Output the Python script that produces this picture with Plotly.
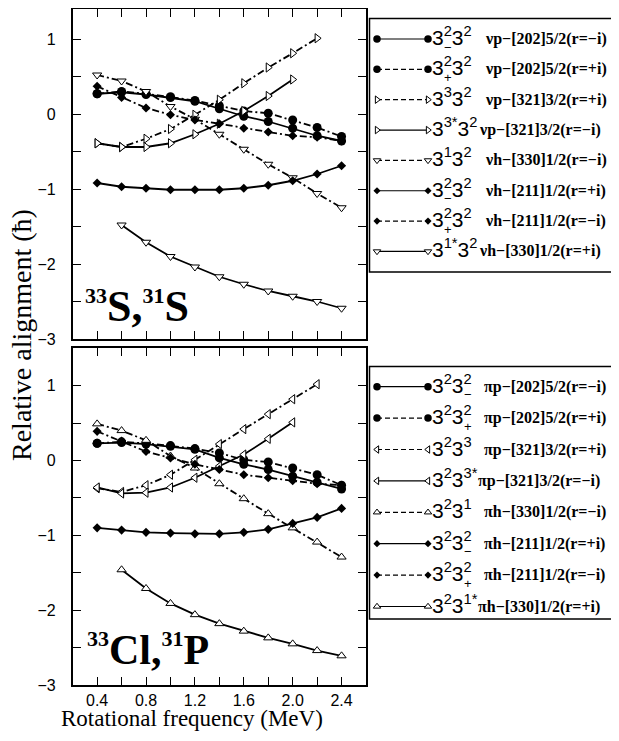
import plotly.graph_objects as go

# The page body adds an 8px margin, so the figure is drawn 8px in from the
# top-left of the 619x741 window; size the figure to fill the rest exactly.
PAGE_W, PAGE_H = 619, 741
OFF = 8
W, H = PAGE_W - OFF, PAGE_H - OFF

# ---------------- data ----------------
freq = [0.4, 0.6, 0.8, 1.0, 1.2, 1.4, 1.6, 1.8, 2.0, 2.2, 2.4]
freq_from_06 = [0.6, 0.8, 1.0, 1.2, 1.4, 1.6, 1.8, 2.0, 2.2, 2.4]
freq_to_22 = [0.4, 0.6, 0.8, 1.0, 1.2, 1.4, 1.6, 1.8, 2.0, 2.2]
freq_to_20 = [0.4, 0.6, 0.8, 1.0, 1.2, 1.4, 1.6, 1.8, 2.0]

x_tick_vals = [0.4, 0.6, 0.8, 1.0, 1.2, 1.4, 1.6, 1.8, 2.0, 2.2, 2.4]
x_tick_text = ["0.4", "", "0.8", "", "1.2", "", "1.6", "", "2.0", "", "2.4"]
y_tick_vals = [-3, -2.5, -2, -1.5, -1, -0.5, 0, 0.5, 1, 1.5]
y_tick_text = ["\u22123", "", "\u22122", "", "\u22121", "", "0", "", "1", ""]

# upper panel: 33S, 31S (neutron configurations)
s_nup202_minus = [0.27, 0.29, 0.26, 0.22, 0.17, 0.07, -0.03, -0.10, -0.19, -0.29, -0.36]
s_nup202_plus = [0.27, 0.30, 0.27, 0.23, 0.18, 0.11, 0.04, 0.01, -0.08, -0.18, -0.30]
s_nup321_plus = [-0.39, -0.44, -0.33, -0.20, -0.01, 0.19, 0.41, 0.62, 0.81, 1.01]
s_nup321_minus = [-0.39, -0.44, -0.44, -0.39, -0.27, -0.13, 0.04, 0.24, 0.46]
s_nuh330_minus = [0.52, 0.44, 0.30, 0.10, -0.07, -0.27, -0.47, -0.67, -0.85, -1.06, -1.25]
s_nuh211_plus = [-0.92, -0.97, -0.99, -1.01, -1.01, -1.01, -0.99, -0.95, -0.89, -0.80, -0.69]
s_nuh211_minus = [0.37, 0.22, 0.08, -0.01, -0.08, -0.13, -0.19, -0.24, -0.29, -0.31, -0.36]
s_nuh330_plus = [-1.48, -1.71, -1.90, -2.04, -2.17, -2.27, -2.36, -2.43, -2.50, -2.59]

# lower panel: 33Cl, 31P (proton configurations)
p_pip202_minus = [0.23, 0.24, 0.22, 0.19, 0.15, 0.035, -0.05, -0.12, -0.21, -0.29, -0.38]
p_pip202_plus = [0.23, 0.25, 0.23, 0.20, 0.16, 0.10, 0.01, -0.02, -0.10, -0.19, -0.33]
p_pip321_plus = [-0.37, -0.42, -0.33, -0.19, 0.01, 0.22, 0.42, 0.62, 0.82, 1.02]
p_pip321_minus = [-0.36, -0.44, -0.43, -0.36, -0.23, -0.075, 0.08, 0.29, 0.51]
p_pih330_minus = [0.49, 0.40, 0.27, 0.06, -0.10, -0.31, -0.51, -0.71, -0.90, -1.09, -1.29]
p_pih211_plus = [-0.90, -0.93, -0.96, -0.97, -0.98, -0.98, -0.96, -0.92, -0.84, -0.76, -0.64]
p_pih211_minus = [0.39, 0.26, 0.12, 0.035, -0.05, -0.12, -0.19, -0.23, -0.27, -0.31, -0.33]
p_pih330_plus = [-1.46, -1.71, -1.91, -2.06, -2.18, -2.28, -2.37, -2.45, -2.54, -2.61]

# legend texts
top_labels = ["3<sup>2</sup>3<sup>2</sup>", "3<sup>2</sup>3<sup>2</sup>", "3<sup>3</sup>3<sup>2</sup>",
              "3<sup>3*</sup>3<sup>2</sup>", "3<sup>1</sup>3<sup>2</sup>", "3<sup>2</sup>3<sup>2</sup>",
              "3<sup>2</sup>3<sup>2</sup>", "3<sup>1*</sup>3<sup>2</sup>"]
top_subs = ["\u2212", "+", "", "", "", "\u2212", "+", ""]
top_desc = ["\u03bdp\u2212[202]5/2(r=\u2212i)", "\u03bdp\u2212[202]5/2(r=+i)",
            "\u03bdp\u2212[321]3/2(r=+i)", "\u03bdp\u2212[321]3/2(r=\u2212i)",
            "\u03bdh\u2212[330]1/2(r=\u2212i)", "\u03bdh\u2212[211]1/2(r=+i)",
            "\u03bdh\u2212[211]1/2(r=\u2212i)", "\u03bdh\u2212[330]1/2(r=+i)"]
bot_labels = ["3<sup>2</sup>3<sup>2</sup>", "3<sup>2</sup>3<sup>2</sup>", "3<sup>2</sup>3<sup>3</sup>",
              "3<sup>2</sup>3<sup>3*</sup>", "3<sup>2</sup>3<sup>1</sup>", "3<sup>2</sup>3<sup>2</sup>",
              "3<sup>2</sup>3<sup>2</sup>", "3<sup>2</sup>3<sup>1*</sup>"]
bot_subs = ["\u2212", "+", "", "", "", "\u2212", "+", ""]
bot_desc = ["\u03c0p\u2212[202]5/2(r=\u2212i)", "\u03c0p\u2212[202]5/2(r=+i)",
            "\u03c0p\u2212[321]3/2(r=+i)", "\u03c0p\u2212[321]3/2(r=\u2212i)",
            "\u03c0h\u2212[330]1/2(r=\u2212i)", "\u03c0h\u2212[211]1/2(r=+i)",
            "\u03c0h\u2212[211]1/2(r=\u2212i)", "\u03c0h\u2212[330]1/2(r=+i)"]

# ---------------- styles ----------------
DASH = "7px,3px,2px,3px"
LEG_DASH = "5px,3px"
CIRC = dict(symbol="circle", size=9, color="black", line=dict(width=0))
DIAM = dict(symbol="diamond", size=7, color="black", line=dict(width=0))


def tri(sym):
    return dict(symbol=sym, size=8, color="white", line=dict(width=1, color="black"))


top_series = [
    (freq, s_nup202_minus, "solid", CIRC),
    (freq, s_nup202_plus, DASH, CIRC),
    (freq_to_22, s_nup321_plus, DASH, tri("triangle-right")),
    (freq_to_20, s_nup321_minus, "solid", tri("triangle-right")),
    (freq, s_nuh330_minus, DASH, tri("triangle-down")),
    (freq, s_nuh211_plus, "solid", DIAM),
    (freq, s_nuh211_minus, DASH, DIAM),
    (freq_from_06, s_nuh330_plus, "solid", tri("triangle-down")),
]
bot_series = [
    (freq, p_pip202_minus, "solid", CIRC),
    (freq, p_pip202_plus, DASH, CIRC),
    (freq_to_22, p_pip321_plus, DASH, tri("triangle-left")),
    (freq_to_20, p_pip321_minus, "solid", tri("triangle-left")),
    (freq, p_pih330_minus, DASH, tri("triangle-up")),
    (freq, p_pih211_plus, "solid", DIAM),
    (freq, p_pih211_minus, DASH, DIAM),
    (freq_from_06, p_pih330_plus, "solid", tri("triangle-up")),
]

fig = go.Figure()

for xs, ys, dash, mk in top_series:
    fig.add_trace(go.Scatter(x=xs, y=ys, mode="lines+markers", xaxis="x", yaxis="y",
                             line=dict(color="black", width=1.8, dash=dash),
                             marker=mk, showlegend=False, hoverinfo="skip"))
for xs, ys, dash, mk in bot_series:
    fig.add_trace(go.Scatter(x=xs, y=ys, mode="lines+markers", xaxis="x2", yaxis="y2",
                             line=dict(color="black", width=1.8, dash=dash),
                             marker=mk, showlegend=False, hoverinfo="skip"))

# ---------------- legends (drawn in a page-pixel overlay axis) ----------------
annotations = []
shapes = []
SERIF = "Liberation Serif"
SANS = "Liberation Sans"


def draw_legend(series, labels, subs, descs, box, y0, dy, sub_dx, desc_x, desc_x_star):
    x0b, y0b, x1b, y1b = box
    shapes.append(dict(type="rect", xref="x3", yref="y3", x0=x0b, y0=y0b, x1=x1b, y1=y1b,
                       line=dict(color="black", width=1.5), fillcolor="rgba(0,0,0,0)"))
    for i, (ser, lab, sub, desc) in enumerate(zip(series, labels, subs, descs)):
        yy = y0 + i * dy
        _, _, dash, mk = ser
        mk2 = dict(mk)
        mk2["size"] = mk["size"] - 1.5
        fig.add_trace(go.Scatter(x=[377, 428], y=[yy, yy], mode="lines+markers",
                                 xaxis="x3", yaxis="y3", cliponaxis=False,
                                 line=dict(color="black", width=1.2,
                                           dash="solid" if dash == "solid" else LEG_DASH),
                                 marker=mk2, showlegend=False, hoverinfo="skip"))
        annotations.append(dict(xref="x3", yref="y3", x=430, y=yy - 3, text=lab,
                                showarrow=False, xanchor="left", yanchor="middle",
                                font=dict(family=SANS, size=21, color="black")))
        if sub:
            annotations.append(dict(xref="x3", yref="y3", x=430 + sub_dx, y=yy + 8, text=sub,
                                    showarrow=False, xanchor="center", yanchor="middle",
                                    font=dict(family=SANS, size=13, color="black")))
        dx = desc_x_star if "*" in lab else desc_x
        annotations.append(dict(xref="x3", yref="y3", x=dx, y=yy, text="<b>" + desc + "</b>",
                                showarrow=False, xanchor="left", yanchor="middle",
                                font=dict(family=SERIF, size=16, color="black")))


draw_legend(top_series, top_labels, top_subs, top_desc, (369.5, 18.5, 617, 272),
            39, 30.35, 18, 483, 477)
draw_legend(bot_series, bot_labels, bot_subs, bot_desc, (369.5, 366.5, 617, 619),
            386.7, 31.4, 38, 482, 476)

# panel labels
SUP = '<sup><span style="font-size:22px">{}</span></sup>'
annotations.append(dict(xref="x3", yref="y3", x=83, y=306,
                        text="<b>" + SUP.format("33") + "S," + SUP.format("31") + "S</b>",
                        showarrow=False, xanchor="left", yanchor="middle",
                        font=dict(family=SERIF, size=44, color="black")))
annotations.append(dict(xref="x3", yref="y3", x=85, y=649,
                        text="<b>" + SUP.format("33") + "Cl," + SUP.format("31") + "P</b>",
                        showarrow=False, xanchor="left", yanchor="middle",
                        font=dict(family=SERIF, size=42, color="black")))

# axis titles
annotations.append(dict(xref="x3", yref="y3", x=21, y=335, text="Relative alignment (\u0127)",
                        textangle=-90, showarrow=False, xanchor="center", yanchor="middle",
                        font=dict(family=SERIF, size=28, color="black")))
annotations.append(dict(xref="x3", yref="y3", x=192, y=718, text="Rotational frequency (MeV)",
                        showarrow=False, xanchor="center", yanchor="middle",
                        font=dict(family=SERIF, size=23, color="black")))

# ---------------- axes (page pixel positions of the frames) ----------------
PX_L, PX_R = 72.7, 366.0
TOP_T, TOP_B = 1.5, 339.0          # top panel spans y = 1.5 .. -3 in the reference
BOT_T, BOT_B = 348.3, 685.0
PPU = (TOP_B - TOP_T) / 4.5        # pixels per unit of alignment
TOP_VIS = OFF + 0.8                # highest drawable row of the page
top_range_max = 1.5 - (TOP_VIS - TOP_T) / PPU


def fx(px):
    return (px - OFF) / W


def fy(py):
    return 1 - (py - OFF) / H


common_x = dict(range=[0.2, 2.6], showline=True, linecolor="black", linewidth=1.6,
                mirror="ticks", ticks="inside", ticklen=8, tickwidth=1.3, tickcolor="black",
                tickvals=x_tick_vals, ticktext=x_tick_text, showgrid=False, zeroline=False,
                domain=[fx(PX_L), fx(PX_R)], automargin=False,
                tickfont=dict(family=SANS, size=16, color="black"))
common_y = dict(showline=True, linecolor="black", linewidth=1.6,
                mirror="ticks", ticks="inside", ticklen=8, tickwidth=1.3, tickcolor="black",
                tickvals=y_tick_vals, ticktext=y_tick_text, showgrid=False, zeroline=False,
                ticklabelstandoff=12, automargin=False,
                tickfont=dict(family=SANS, size=16, color="black"))

fig.update_layout(
    template="none",
    width=W, height=H, margin=dict(l=0, r=0, t=0, b=0, pad=0, autoexpand=False),
    paper_bgcolor="white", plot_bgcolor="rgba(0,0,0,0)",
    showlegend=False,
    xaxis=dict(common_x, anchor="y", showticklabels=False),
    yaxis=dict(common_y, anchor="x", range=[-3, top_range_max],
               domain=[fy(TOP_B), fy(TOP_VIS)]),
    xaxis2=dict(common_x, anchor="y2", showticklabels=True),
    yaxis2=dict(common_y, anchor="x2", range=[-3, 1.5], domain=[fy(BOT_B), fy(BOT_T)]),
    xaxis3=dict(domain=[0, 1], range=[OFF, PAGE_W], visible=False, anchor="y3",
                fixedrange=True, automargin=False),
    yaxis3=dict(domain=[0, 1], range=[PAGE_H, OFF], visible=False, anchor="x3",
                fixedrange=True, automargin=False),
    annotations=annotations, shapes=shapes,
)

fig.write_html("out.html")
